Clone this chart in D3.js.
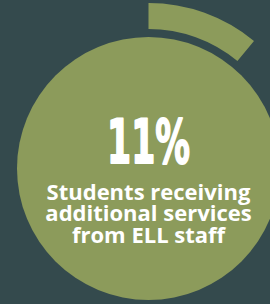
<!DOCTYPE html>
<html>
<head>
<meta charset="utf-8">
<script src="https://cdn.jsdelivr.net/npm/d3@7"></script>
<style>
  html, body { margin: 0; padding: 0; background: #344a4d; }
  svg { display: block; }
</style>
</head>
<body>
<div id="container"></div>
<script>
// chart values
const percentValue = [11];
const labelLines = ["Students receiving", "additional services", "from ELL staff"];

function drawDonutStat() {
    const width = 270;
    const height = 304;
    const cx = 148.5, cy = 168.5;

    const svg = d3.create("svg")
        .attr("width", width)
        .attr("height", height);

    svg.append("rect")
        .attr("width", width)
        .attr("height", height)
        .attr("fill", "#344a4d");

    const g = svg.append("g")
        .attr("transform", `translate(${cx},${cy})`);

    // percent -> angle
    const angle = d3.scaleLinear().domain([0, 100]).range([0, 2 * Math.PI]);

    // big filled disc
    g.append("circle")
        .attr("r", 131.5)
        .attr("fill", "#8c9b5b");

    // outer ring segment showing the share
    const arc = d3.arc()
        .innerRadius(139.5)
        .outerRadius(165.5);

    g.selectAll("path.share")
        .data(percentValue)
        .join("path")
        .attr("class", "share")
        .attr("d", d => arc({ startAngle: 0, endAngle: angle(d) }))
        .attr("fill", "#8c9b5b");

    // condensed look: squeeze the bold glyphs to the reference width
    g.append("text")
        .attr("x", -41.5)
        .attr("y", -6)
        .attr("textLength", 83)
        .attr("lengthAdjust", "spacingAndGlyphs")
        .attr("fill", "#ffffff")
        .attr("stroke", "#ffffff")
        .attr("stroke-width", 2)
        .attr("stroke-linejoin", "round")
        .style("font-family", "'DejaVu Sans', sans-serif")
        .style("font-weight", "700")
        .style("font-size", "61px")
        .text(percentValue[0] + "%");

    g.selectAll("text.label")
        .data(labelLines)
        .join("text")
        .attr("class", "label")
        .attr("x", 0)
        .attr("y", (d, i) => 31 + i * 21.5)
        .attr("text-anchor", "middle")
        .attr("fill", "#ffffff")
        .style("font-family", "'Open Sans', sans-serif")
        .style("font-weight", "700")
        .style("font-size", "22px")
        .text(d => d);

    document.getElementById("container").appendChild(svg.node());
}

drawDonutStat();
</script>
</body>
</html>
